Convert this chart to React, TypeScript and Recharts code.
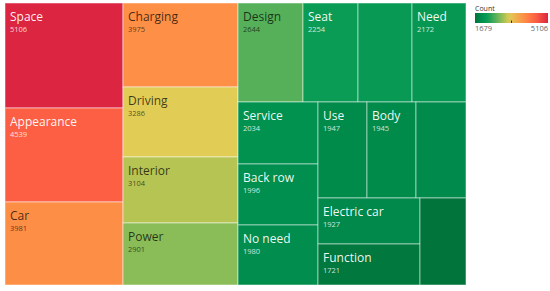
import React from 'react';
import { Treemap } from 'recharts';

// topics, sorted by count (unlabelled cells had names too long to fit)
const topics = [
  'Space', 'Appearance', 'Car', 'Charging', 'Driving', 'Interior', 'Power',
  'Design', 'Seat', '', 'Need', 'Service', 'Back row', 'No need', 'Use',
  'Body', '', 'Electric car', 'Function', '',
];
const counts = [
  5106, 4539, 3981, 3975, 3286, 3104, 2901, 2644, 2254, 2205, 2172, 2034,
  1996, 1980, 1947, 1945, 1938, 1927, 1721, 1679,
];
const legendTicks = [1679, 5106];

const data = topics.map((name, i) => ({ name, count: counts[i] }));

// red-yellow-green diverging scale (reversed)
const colorStops: [number, string][] = [
  [0, '#00743b'],
  [0.1, '#009150'],
  [0.17, '#0a9c55'],
  [0.28, '#55b05a'],
  [0.36, '#8cbd58'],
  [0.42, '#b8c452'],
  [0.47, '#e2cc56'],
  [0.67, '#fd8f46'],
  [0.835, '#fc5f44'],
  [1, '#dc2540'],
];

const hex = (c: string) => [1, 3, 5].map((i) => parseInt(c.slice(i, i + 2), 16));

function colorAt(t: number) {
  t = Math.max(0, Math.min(1, t));
  for (let i = 1; i < colorStops.length; i++) {
    const [t1, c1] = colorStops[i];
    if (t <= t1) {
      const [t0, c0] = colorStops[i - 1];
      const f = (t - t0) / (t1 - t0);
      const a = hex(c0);
      const b = hex(c1);
      const rgb = a.map((v, k) => Math.round(v + (b[k] - v) * f));
      return `rgb(${rgb.join(',')})`;
    }
  }
  return colorStops[colorStops.length - 1][1];
}

function colorFor(v: number) {
  const [lo, hi] = legendTicks;
  return colorAt((v - lo) / (hi - lo));
}

function isLight(color: string) {
  const rgb = color.match(/\d+/g)!.map(Number).map((v) => {
    const c = v / 255;
    return c <= 0.03928 ? c / 12.92 : Math.pow((c + 0.055) / 1.055, 2.4);
  });
  return 0.2126 * rgb[0] + 0.7152 * rgb[1] + 0.0722 * rgb[2] > 0.31;
}

function TopicCell(props: any) {
  const { x, y, width, height, depth, name, value } = props;
  if (depth !== 1) return null;
  const fill = colorFor(value);
  const light = isLight(fill);
  return (
    <g>
      <rect
        x={x}
        y={y}
        width={width}
        height={height}
        fill={fill}
        stroke="rgba(255,255,255,0.5)"
        strokeWidth={1}
      />
      {name ? (
        <>
          <text
            x={x + 5}
            y={y + 17.5}
            fontSize={12}
            fill={light ? 'rgba(0,0,0,0.72)' : 'rgba(255,255,255,0.95)'}
          >
            {name}
          </text>
          <text
            x={x + 5}
            y={y + 29}
            fontSize={7.5}
            fill={light ? 'rgba(0,0,0,0.65)' : 'rgba(255,255,255,0.8)'}
          >
            {value}
          </text>
        </>
      ) : null}
    </g>
  );
}

function ColorLegend() {
  const steps = Array.from({ length: 21 }, (_, i) => i / 20);
  return (
    <svg width={80} height={40} style={{ position: 'absolute', left: 470, top: 0 }}>
      <defs>
        <linearGradient id="countGrad" x1="0" x2="1" y1="0" y2="0">
          {steps.map((t) => (
            <stop key={t} offset={t} stopColor={colorAt(t)} />
          ))}
        </linearGradient>
      </defs>
      <text x={5} y={11} fontSize={7} fill="#333">Count</text>
      <rect x={5} y={13} width={73} height={10} fill="url(#countGrad)" />
      <line x1={41.5} x2={41.5} y1={20.5} y2={23} stroke="#333" strokeWidth={1} />
      <text x={5} y={30.5} fontSize={7.5} fill="#666">{legendTicks[0]}</text>
      <text x={78} y={30.5} fontSize={7.5} fill="#666" textAnchor="end">{legendTicks[1]}</text>
    </svg>
  );
}

export default function App() {
  return (
    <div
      style={{
        position: 'absolute',
        left: 0,
        top: 0,
        width: 550,
        height: 291,
        background: '#fff',
        fontFamily: '"Open Sans", sans-serif',
      }}
    >
      <div style={{ position: 'absolute', left: 5, top: 3 }}>
        <Treemap
          width={461}
          height={282}
          data={data}
          dataKey="count"
          nameKey="name"
          isAnimationActive={false}
          content={<TopicCell />}
        />
      </div>
      <ColorLegend />
    </div>
  );
}
